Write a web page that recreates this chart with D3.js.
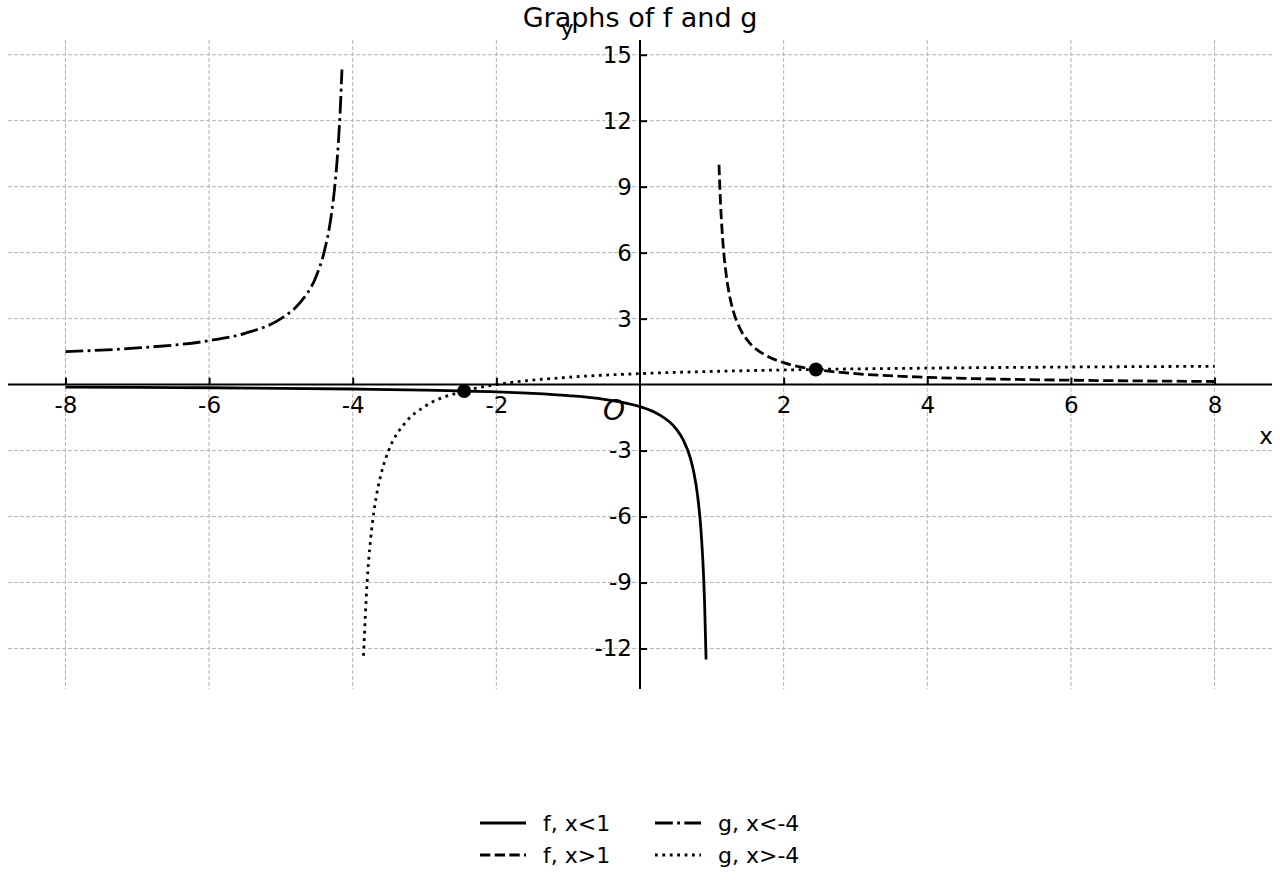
<!DOCTYPE html>
<html>
<head>
<meta charset="utf-8">
<script src="https://cdn.jsdelivr.net/npm/d3@7"></script>
<style>
  html, body { margin: 0; padding: 0; background: #fff; }
  svg { display: block; font-family: "DejaVu Sans", sans-serif; }
</style>
</head>
<body>
<svg id="chart" width="1280" height="880"></svg>
<script>
// ---- data ----
const fLeftX  = [-8, -7, -6, -5, -4, -3, -2, -1.5, -1, -0.5, 0, 0.25, 0.5, 0.6, 0.7, 0.75, 0.8, 0.85, 0.88, 0.9, 0.92];
const fLeftY  = [-0.11, -0.125, -0.143, -0.167, -0.2, -0.25, -0.333, -0.4, -0.5, -0.667, -1, -1.333, -2, -2.5, -3.333, -4, -5, -6.667, -8.333, -10, -12.5];
const fRightX = [1.1, 1.12, 1.15, 1.2, 1.25, 1.3, 1.4, 1.5, 1.75, 2, 2.5, 3, 4, 5, 6, 7, 8];
const fRightY = [10, 8.333, 6.667, 5, 4, 3.333, 2.5, 2, 1.333, 1, 0.667, 0.5, 0.333, 0.25, 0.2, 0.167, 0.143];
const gLeftX  = [-8, -7, -6, -5.5, -5, -4.75, -4.5, -4.4, -4.3, -4.25, -4.2, -4.17, -4.15];
const gLeftY  = [1.5, 1.667, 2, 2.333, 3, 3.667, 5, 6, 7.667, 9, 11, 12.76, 14.33];
const gRightX = [-3.85, -3.8, -3.75, -3.7, -3.6, -3.5, -3.25, -3, -2.5, -2, -1, 0, 1, 2, 4, 6, 8];
const gRightY = [-12.33, -9, -7, -5.667, -4, -3, -1.667, -1, -0.333, 0, 0.333, 0.5, 0.6, 0.667, 0.75, 0.8, 0.833];
const pointsX = [-2.449, 2.449];
const pointsY = [-0.29, 0.69];
const xTicks = [-8, -6, -4, -2, 2, 4, 6, 8];
const yTicks = [-12, -9, -6, -3, 3, 6, 9, 12, 15];
const xTickLabels = ["-8", "-6", "-4", "-2", "2", "4", "6", "8"];
const yTickLabels = ["-12", "-9", "-6", "-3", "3", "6", "9", "12", "15"];
const seriesNames = ["f, x<1", "f, x>1", "g, x<-4", "g, x>-4"];
const titleText = "Graphs of f and g";

// ---- drawing ----
const svg = d3.select("#chart");
const x = d3.scaleLinear().domain([-8.8, 8.8]).range([8, 1272]);
const y = d3.scaleLinear().domain([-13.84, 15.67]).range([689, 40]);

const gridColor = "#b4b4b4";
// grid
svg.append("g").selectAll("line").data(xTicks).join("line")
  .attr("x1", d => x(d)).attr("x2", d => x(d))
  .attr("y1", y.range()[1]).attr("y2", y.range()[0])
  .attr("stroke", gridColor).attr("stroke-width", 1).attr("stroke-dasharray", "4,2");
svg.append("g").selectAll("line").data(yTicks).join("line")
  .attr("y1", d => y(d)).attr("y2", d => y(d))
  .attr("x1", x.range()[0]).attr("x2", x.range()[1])
  .attr("stroke", gridColor).attr("stroke-width", 1).attr("stroke-dasharray", "4,2");

// curves
const zip = (xs, ys) => xs.map((v, i) => [v, ys[i]]);
const line = d3.line().x(d => x(d[0])).y(d => y(d[1])).curve(d3.curveMonotoneX);
const styles = [
  { data: zip(fLeftX, fLeftY), dash: null },
  { data: zip(fRightX, fRightY), dash: "10.3,4.4" },
  { data: zip(gLeftX, gLeftY), dash: "17.8,4.4,2.8,4.4" },
  { data: zip(gRightX, gRightY), dash: "2.8,4.6" }
];
styles.forEach(s => {
  svg.append("path").datum(s.data)
    .attr("d", line)
    .attr("fill", "none").attr("stroke", "#000").attr("stroke-width", 2.8)
    .attr("stroke-dasharray", s.dash);
});

// axes spines through origin
const xAxis = d3.axisBottom(x).tickValues(xTicks).tickFormat((d, i) => xTickLabels[i])
  .tickSizeInner(-7).tickSizeOuter(0).tickPadding(12);
const gx = svg.append("g").attr("transform", `translate(0,${y(0)})`).call(xAxis);
gx.select(".domain").attr("stroke-width", 2).attr("d", `M${x.range()[0]},0H${x.range()[1]}`);
gx.selectAll(".tick line").attr("stroke-width", 2);
gx.selectAll(".tick text").attr("font-size", 23).attr("font-family", "DejaVu Sans").attr("fill", "#000");

const yAxis = d3.axisLeft(y).tickValues(yTicks).tickFormat((d, i) => yTickLabels[i])
  .tickSizeInner(-7).tickSizeOuter(0).tickPadding(8);
const gy = svg.append("g").attr("transform", `translate(${x(0)},0)`).call(yAxis);
gy.select(".domain").attr("stroke-width", 2).attr("d", `M0,${y.range()[1]}V${y.range()[0]}`);
gy.selectAll(".tick line").attr("stroke-width", 2);
gy.selectAll(".tick text").attr("font-size", 23).attr("font-family", "DejaVu Sans").attr("fill", "#000");

// intersection points
svg.append("g").selectAll("circle").data(zip(pointsX, pointsY)).join("circle")
  .attr("cx", d => x(d[0])).attr("cy", d => y(d[1])).attr("r", 7).attr("fill", "#000");

// labels
svg.append("text").attr("x", 640).attr("y", 27).attr("text-anchor", "middle")
  .attr("font-size", 27).text(titleText);
svg.append("text").attr("x", 567).attr("y", 36).attr("text-anchor", "middle")
  .attr("font-size", 22).text("y");
svg.append("text").attr("x", 1266).attr("y", 444).attr("text-anchor", "middle")
  .attr("font-size", 23).text("x");
svg.append("text").attr("x", 614).attr("y", 420).attr("text-anchor", "middle")
  .attr("font-size", 28).attr("font-style", "italic").text("O");

// legend
const legendItems = [
  { name: seriesNames[0], dash: null, hx: 480, ty: 823 },
  { name: seriesNames[1], dash: "10.3,4.4", hx: 480, ty: 855 },
  { name: seriesNames[2], dash: "17.8,4.4,2.8,4.4", hx: 655, ty: 823 },
  { name: seriesNames[3], dash: "2.8,4.6", hx: 655, ty: 855 }
];
const lg = svg.append("g");
legendItems.forEach(it => {
  lg.append("line").attr("x1", it.hx).attr("x2", it.hx + 46)
    .attr("y1", it.ty).attr("y2", it.ty)
    .attr("stroke", "#000").attr("stroke-width", 2.8).attr("stroke-dasharray", it.dash);
  lg.append("text").attr("x", it.hx + 63).attr("y", it.ty + 8)
    .attr("font-size", 22).text(it.name);
});
</script>
</body>
</html>
